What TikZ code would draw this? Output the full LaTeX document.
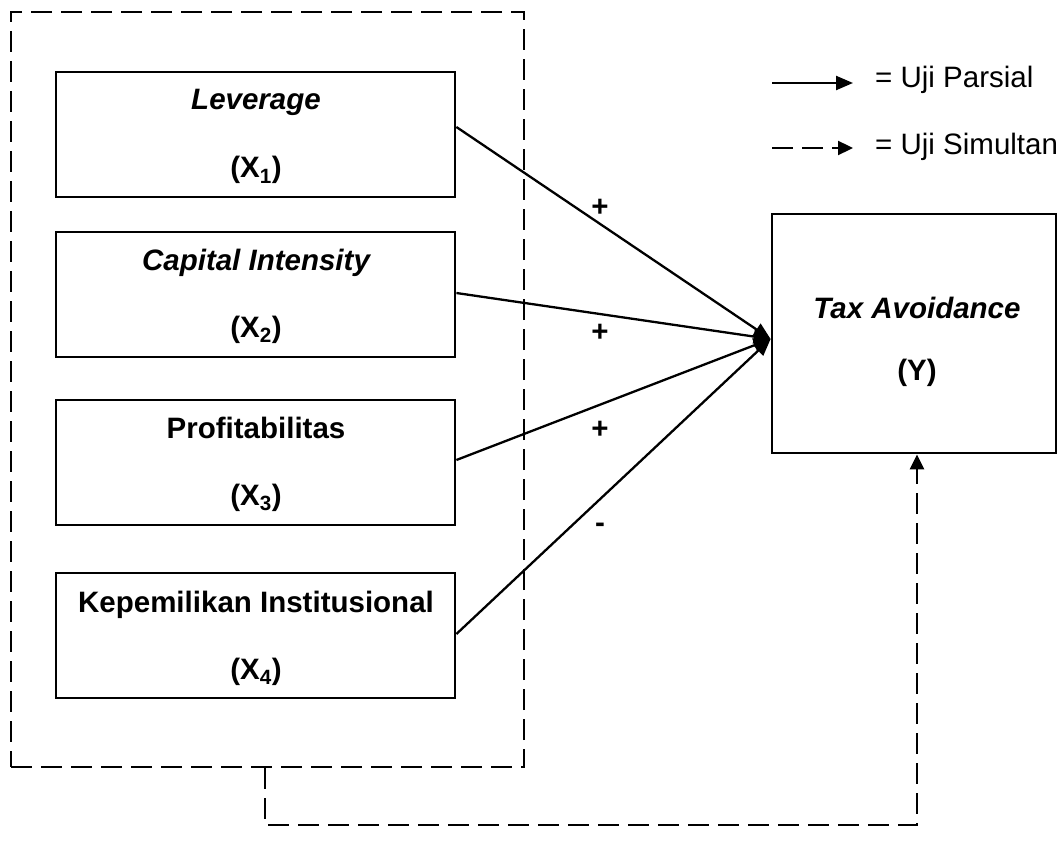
\documentclass[tikz,border=0pt]{standalone}
\usepackage{fontspec}
\setmainfont{Liberation Sans}
\usetikzlibrary{arrows.meta,calc}
\begin{document}
\begin{tikzpicture}[x=1pt,y=-1pt,
  vbox/.style={draw,line width=2.8pt,inner sep=0pt,minimum width=399pt,minimum height=125pt},
  ybox/.style={draw,line width=2.8pt,inner sep=0pt,minimum width=284pt,minimum height=239pt},
  outerbox/.style={draw,line width=2.8pt,inner sep=0pt,dash pattern=on 21pt off 9pt,minimum width=513pt,minimum height=755pt},
  lbl/.style={anchor=base,inner sep=0pt,font=\fontsize{29.5}{35}\selectfont\bfseries},
  ilbl/.style={lbl,font=\fontsize{29.5}{35}\selectfont\bfseries\itshape},
  sign/.style={inner sep=0pt,font=\fontsize{29.5}{35}\selectfont\bfseries},
  legtxt/.style={anchor=base west,inner sep=0pt,font=\fontsize{29.5}{35}\selectfont},
  arr/.style={line width=2.3pt,-{Triangle[length=17pt,width=14pt]}},
  darr/.style={line width=2.8pt,dash pattern=on 21pt off 9pt,-{Triangle[length=15pt,width=14pt]}}
]
\useasboundingbox (0,0) rectangle (1062,850);

% outer dashed box
\node[outerbox] (outer) at (267.5,389.5) {};

% variable boxes
\node[vbox] (lev) at (255.5,134.5) {};
\node[vbox] (cap) at (255.5,294.5) {};
\node[vbox] (pro) at (255.5,462.5) {};
\node[vbox] (kep) at (255.5,635.5) {};
\node[ybox] (tax) at (914,333.5) {};

% texts
\node[ilbl] (t1a) at (256,110) {Leverage};
\node[lbl]  (t1b) at (256,178) {(X\textsubscript{1})};
\node[ilbl] (t2a) at (256,270) {Capital Intensity};
\node[lbl]  (t2b) at (256,337) {(X\textsubscript{2})};
\node[lbl]  (t3a) at (256,438) {Profitabilitas};
\node[lbl]  (t3b) at (256,505) {(X\textsubscript{3})};
\node[lbl]  (t4a) at (256,612) {Kepemilikan Institusional};
\node[lbl]  (t4b) at (256,679) {(X\textsubscript{4})};
\node[ilbl] (tya) at (917,318) {Tax Avoidance};
\node[lbl]  (tyb) at (917,380) {(Y)};

% partial arrows
\coordinate (tgt) at (tax.west |- 0,339);
\draw[arr] (lev.east |- 0,127) -- (tgt);
\draw[arr] (cap.east |- 0,293) -- (tgt);
\draw[arr] (pro.east |- 0,460) -- (tgt);
\draw[arr] (kep.east |- 0,634) -- (tgt);

% signs
\node[sign] (s1) at (600,208) {+};
\node[sign] (s2) at (600,333) {+};
\node[sign] (s3) at (600,430) {+};
\node[sign] (s4) at (600,528) {-};

% simultaneous arrow
\coordinate (c1) at (outer.south -| 265,0);
\coordinate (c2) at (265,825);
\coordinate (c3) at (917,825);
\draw[darr] (c1) -- (c2) -- (c3) -- (tax.south -| c3);

% legend
\coordinate (l1s) at (772,83);
\coordinate (l1e) at (853,83);
\coordinate (l2s) at (772,148);
\coordinate (l2e) at (853,148);
\draw[arr] (l1s) -- (l1e);
\draw[darr,line width=2.3pt] (l2s) -- (l2e);
\node[legtxt] (lg1) at (875,88) {= Uji Parsial};
\node[legtxt] (lg2) at (875,155) {= Uji Simultan};
\end{tikzpicture}
\end{document}
